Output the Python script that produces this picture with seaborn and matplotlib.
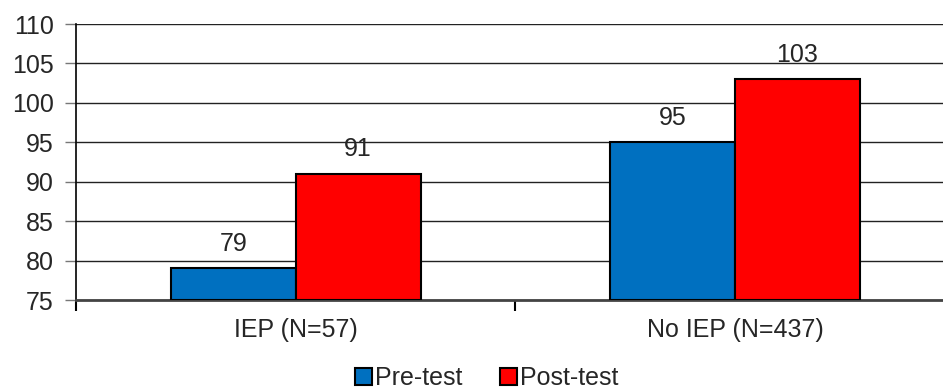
import matplotlib
matplotlib.use("Agg")
import matplotlib.pyplot as plt
import seaborn as sns
import pandas as pd
from matplotlib.ticker import FixedLocator, NullFormatter

categories = ["IEP (N=57)", "No IEP (N=437)"]
series_names = ["Pre-test", "Post-test"]
pre_test = [79, 95]
post_test = [91, 103]
y_ticks = [75, 80, 85, 90, 95, 100, 105, 110]
colors = ["#0070C0", "#FF0000"]
baseline = 75

df = pd.DataFrame({
    "category": categories * 2,
    "series": [series_names[0]] * 2 + [series_names[1]] * 2,
    "value": pre_test + post_test,
})

sns.set_style("white")
plt.rcParams["font.family"] = ["Liberation Sans", "DejaVu Sans"]

fig = plt.figure(figsize=(9.43, 3.89), dpi=100)
ax = fig.add_axes([76 / 943, 1 - 300 / 389, 1 - 76 / 943, (300 - 24) / 389])

sns.barplot(data=df, x="category", y="value", hue="series", palette=colors,
            saturation=1, width=0.568, gap=0, edgecolor="black", linewidth=1.5,
            ax=ax, zorder=3, legend=True)

ax.set_ylim(75, 110)
ax.set_xlim(-0.5, 1.473)
# bars start from the axis bottom
for cont in ax.containers:
    vals = []
    for bar in cont:
        h = bar.get_height()
        vals.append(h)
        bar.set_y(baseline)
        bar.set_height(h - baseline)
    ax.bar_label(cont, labels=[f"{v:.0f}" for v in vals], padding=9, fontsize=18)

ax.set_yticks(y_ticks)
ax.set_yticklabels([str(t) for t in y_ticks], fontsize=18)
ax.yaxis.grid(True, color="#222222", linewidth=1.0, zorder=0)
ax.set_axisbelow(True)
ax.tick_params(axis="y", direction="out", length=8, width=1, color="#777777", pad=8, left=True)
ax.tick_params(axis="x", which="major", length=0, labelsize=18, pad=13)
ax.xaxis.set_minor_locator(FixedLocator([-0.5, 0.5, 1.5]))
ax.xaxis.set_minor_formatter(NullFormatter())
ax.tick_params(axis="x", which="minor", direction="out", length=8, width=1.5, color="black", bottom=True)

ax.set_xlabel("")
ax.set_ylabel("")
for s in ["top", "right"]:
    ax.spines[s].set_visible(False)
ax.spines["left"].set_color("black")
ax.spines["left"].set_linewidth(1.2)
ax.spines["bottom"].set_color("#444444")
ax.spines["bottom"].set_linewidth(2)

handles, labels = ax.get_legend_handles_labels()
ax.legend_.remove()
fig.legend(handles, labels, loc="center", bbox_to_anchor=(487 / 943, 1 - 378 / 389),
           ncol=2, frameon=False, fontsize=18, handlelength=0.65, handleheight=0.65,
           handletextpad=0.15, columnspacing=1.5, borderpad=0)

fig.savefig("out.png", dpi=100)
